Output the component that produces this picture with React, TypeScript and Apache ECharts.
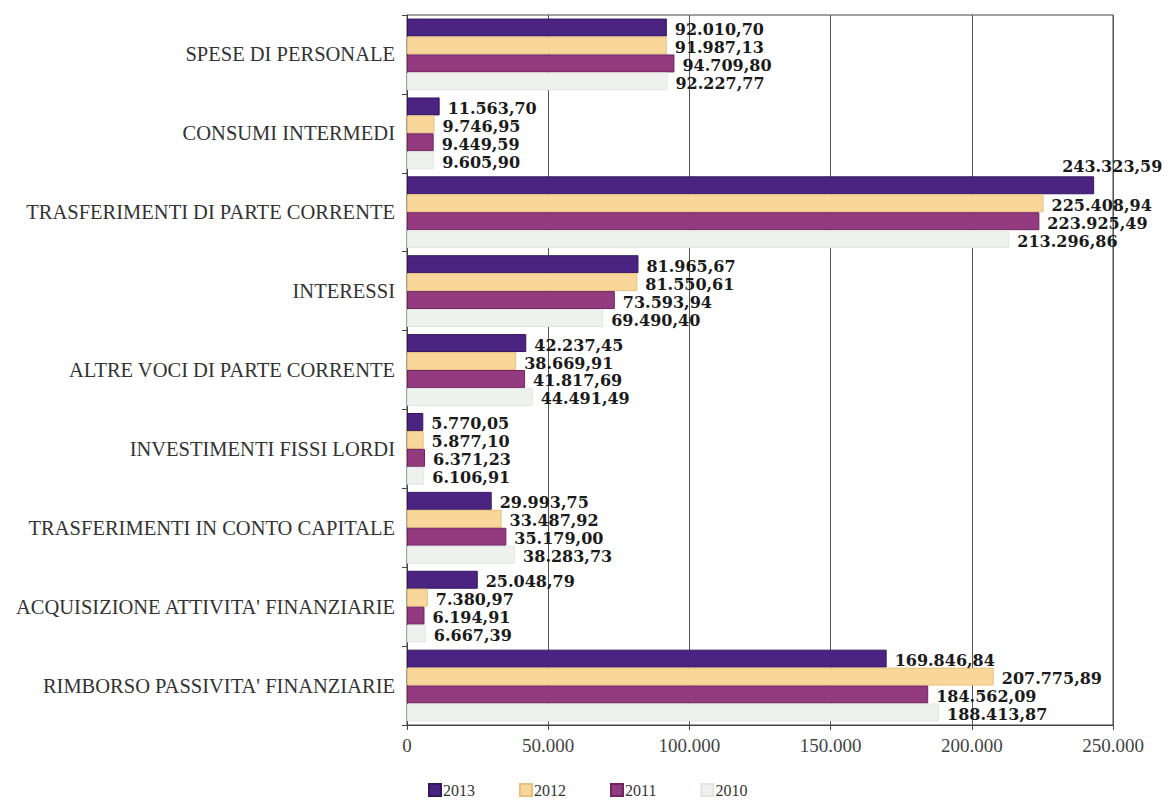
import React, { useEffect, useRef } from "react";
import * as echarts from "echarts";

const categories = [
  "SPESE DI PERSONALE",
  "CONSUMI INTERMEDI",
  "TRASFERIMENTI DI PARTE CORRENTE",
  "INTERESSI",
  "ALTRE VOCI DI PARTE CORRENTE",
  "INVESTIMENTI FISSI LORDI",
  "TRASFERIMENTI IN CONTO CAPITALE",
  "ACQUISIZIONE ATTIVITA' FINANZIARIE",
  "RIMBORSO PASSIVITA' FINANZIARIE",
];

const years = ["2013", "2012", "2011", "2010"];

const values2013 = [92010.7, 11563.7, 243323.59, 81965.67, 42237.45, 5770.05, 29993.75, 25048.79, 169846.84];
const values2012 = [91987.13, 9746.95, 225408.94, 81550.61, 38669.91, 5877.1, 33487.92, 7380.97, 207775.89];
const values2011 = [94709.8, 9449.59, 223925.49, 73593.94, 41817.69, 6371.23, 35179.0, 6194.91, 184562.09];
const values2010 = [92227.77, 9605.9, 213296.86, 69490.4, 44491.49, 6106.91, 38283.73, 6667.39, 188413.87];

const xTicks = { min: 0, max: 250000, interval: 50000 };

const colors = ["#4a2480", "#f9d79b", "#933b7e", "#eef1ee"];
const borders = ["#34165f", "#e8c07e", "#6f2660", "#e2e6e2"];

function itNumber(v: number, decimals: number): string {
  const s = v.toFixed(decimals);
  const [intPart, dec] = s.split(".");
  const withDots = intPart.replace(/\B(?=(\d{3})+(?!\d))/g, ".");
  return dec ? withDots + "," + dec : withDots;
}

export default function App() {
  const ref = useRef<HTMLDivElement>(null);

  useEffect(() => {
    if (!ref.current) return;
    const chart = echarts.init(ref.current, undefined, { renderer: "svg" });
    const all = [values2013, values2012, values2011, values2010];

    const series = years.map((y, i) => ({
      name: y,
      type: "bar",
      barGap: "0%",
      barCategoryGap: "9%",
      itemStyle: { color: colors[i], borderColor: borders[i], borderWidth: 1 },
      label: {
        show: true,
        position: "right",
        distance: 8,
        offset: [0, 2],
        fontFamily: "DejaVu Serif",
        fontWeight: "bold",
        fontSize: 16,
        lineHeight: 16,
        color: "#1a1a1a",
        formatter: (p: any) => itNumber(p.value, 2),
      },
      data: all[i].map((v, j) =>
        i === 0 && j === 2
          ? { value: v, label: { offset: [-40, -19] } }
          : v
      ),
    }));

    chart.setOption({
      animation: false,
      backgroundColor: "#ffffff",
      grid: {
        left: 407,
        right: 60,
        top: 15,
        bottom: 76,
        show: true,
        borderColor: "#444",
        borderWidth: 1,
        backgroundColor: "transparent",
      },
      legend: {
        data: years,
        left: 428,
        top: 782,
        padding: 0,
        itemWidth: 12,
        itemHeight: 12,
        itemGap: 44,
        icon: "rect",
        textStyle: { fontFamily: "Liberation Serif", fontSize: 16, color: "#333", padding: [0, 0, 0, -3] },
      },
      xAxis: {
        type: "value",
        min: xTicks.min,
        max: xTicks.max,
        interval: xTicks.interval,
        axisLine: { show: true, lineStyle: { color: "#444" } },
        axisTick: { show: true, length: 5, lineStyle: { color: "#444" } },
        splitLine: { show: true, lineStyle: { color: "#555", width: 1 } },
        axisLabel: {
          margin: 11,
          fontFamily: "Liberation Serif",
          fontSize: 19,
          color: "#444",
          formatter: (v: number) => itNumber(v, 0),
        },
      },
      yAxis: {
        type: "category",
        inverse: true,
        data: categories,
        axisLine: { show: true, lineStyle: { color: "#444" } },
        axisTick: { show: true, length: 5, alignWithLabel: false, lineStyle: { color: "#444" } },
        axisLabel: {
          margin: 12,
          fontFamily: "Liberation Serif",
          fontSize: 20.5,
          color: "#333",
        },
      },
      series,
    });

    return () => chart.dispose();
  }, []);

  return (
    <div
      ref={ref}
      style={{ position: "absolute", left: 0, top: 0, width: 1173, height: 801 }}
    />
  );
}
